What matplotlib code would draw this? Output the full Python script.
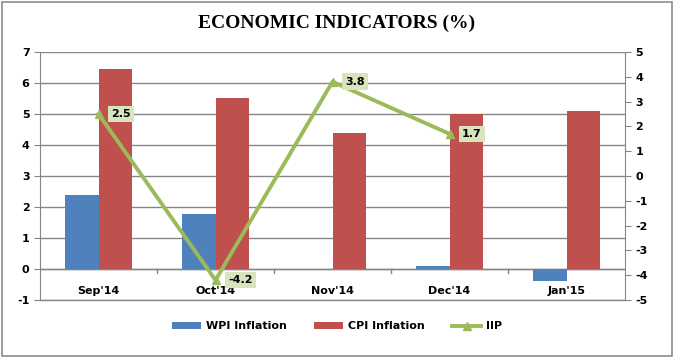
import numpy as np
import matplotlib
matplotlib.use("Agg")
from matplotlib import pyplot as plt

plt.rcParams['axes.unicode_minus'] = False

months = ["Sep'14", "Oct'14", "Nov'14", "Dec'14", "Jan'15"]
wpi = [2.38, 1.77, 0.0, 0.11, -0.39]
cpi = [6.46, 5.52, 4.38, 5.0, 5.11]
iip = [2.5, -4.2, 3.8, 1.7]

blue = '#4f81bd'
red = '#c0504d'
green = '#9bbb59'
grid_grey = '#868686'

fig = plt.figure(figsize=(6.74, 3.58), dpi=100)
# outer chart border
fig.patches.append(plt.Rectangle((0.003, 0.006), 0.994, 0.988, transform=fig.transFigure,
                                 fill=False, edgecolor='#8c8c8c', linewidth=1.2))

ax = fig.add_axes([40 / 674, 58 / 358, 585 / 674, 248 / 358])
x = np.arange(len(months))
w = 0.29
ax.bar(x - w / 2, wpi, w, color=blue, label='WPI Inflation', zorder=2)
ax.bar(x + w / 2, cpi, w, color=red, label='CPI Inflation', zorder=2)

ax.set_xlim(-0.5, len(months) - 0.5)
ax.set_ylim(-1, 7)
ax.set_yticks(range(-1, 8))
ax.yaxis.grid(True, color=grid_grey, linewidth=1, zorder=0)
ax.set_axisbelow(True)
ax.axhline(-1, color=grid_grey, linewidth=1, clip_on=False, zorder=0)
for s in ['top', 'right', 'bottom']:
    ax.spines[s].set_visible(False)
ax.spines['left'].set_color(grid_grey)
ax.tick_params(axis='y', colors=grid_grey, length=4, labelsize=8)
for t in ax.get_yticklabels():
    t.set_color('black')
    t.set_fontweight('bold')

# category axis at zero with ticks between categories
ax.axhline(0, color=grid_grey, linewidth=1, zorder=1)
for b in np.arange(0.5, len(months) - 0.5, 1.0):
    ax.plot([b, b], [0, -0.13], color=grid_grey, linewidth=1, zorder=1)
ax.set_xticks([])
for i, m in enumerate(months):
    ax.text(i, -0.72, m, ha='center', va='center', fontsize=8, fontweight='bold')

ax2 = ax.twinx()
ax2.set_ylim(-5, 5)
ax2.set_yticks(range(-5, 6))
for s in ['top', 'left', 'bottom']:
    ax2.spines[s].set_visible(False)
ax2.spines['right'].set_color(grid_grey)
ax2.tick_params(axis='y', colors=grid_grey, length=4, labelsize=8)
for t in ax2.get_yticklabels():
    t.set_color('black')
    t.set_fontweight('bold')
ax2.plot(x[:len(iip)], iip, color=green, linewidth=2.8, marker='^', markersize=6,
         label='IIP', zorder=3)
for xi, v in zip(x, iip):
    ax2.annotate(f'{v}', (xi, v), xytext=(9, 0), textcoords='offset points',
                 ha='left', va='center', fontsize=8, fontweight='bold',
                 bbox=dict(boxstyle='square,pad=0.3', facecolor='#d7e4bd', edgecolor='none'))

fig.text(0.5, 0.935, 'ECONOMIC INDICATORS (%)', ha='center', va='center',
         fontsize=14, fontweight='bold', family='Liberation Serif')

h1, l1 = ax.get_legend_handles_labels()
h2, l2 = ax2.get_legend_handles_labels()
fig.legend(h1 + h2, l1 + l2, loc='center', bbox_to_anchor=(0.5, 0.088), ncol=3,
           frameon=False, prop={'weight': 'bold', 'size': 8},
           handlelength=2.6, columnspacing=2.5, handletextpad=0.4)

fig.savefig('out.png', dpi=100)
